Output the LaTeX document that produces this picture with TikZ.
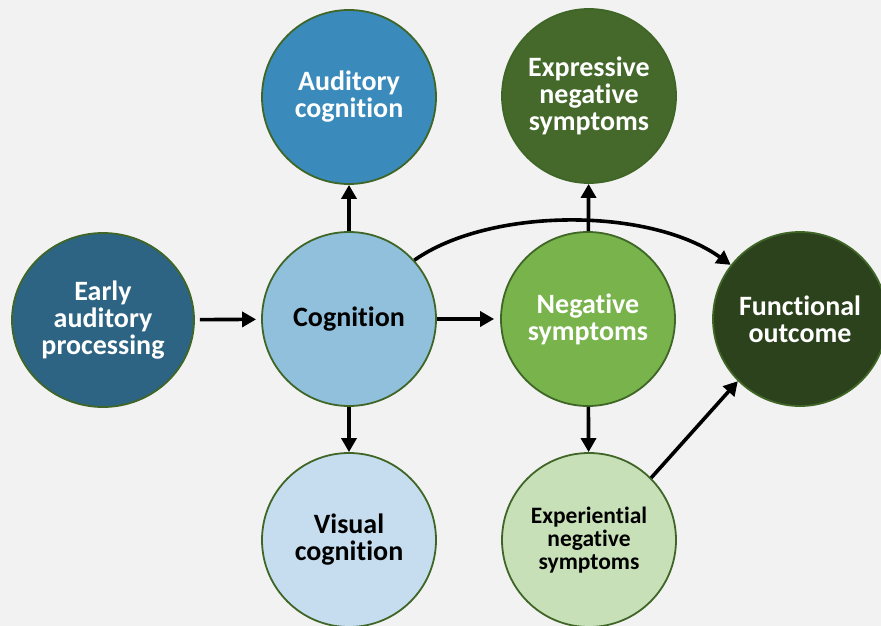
\documentclass[tikz,border=0pt]{standalone}
\usepackage{fontspec}
\setmainfont[Ligatures=NoCommon]{Carlito}
\usetikzlibrary{arrows.meta,shapes.geometric}
\definecolor{bgc}{HTML}{F2F2F2}
\definecolor{rim}{HTML}{3F6626}
\definecolor{cEarly}{HTML}{2D6483}
\definecolor{cAud}{HTML}{3A8BBB}
\definecolor{cCog}{HTML}{91C0DC}
\definecolor{cVis}{HTML}{C5DDEE}
\definecolor{cNeg}{HTML}{78B34B}
\definecolor{cExpr}{HTML}{44692B}
\definecolor{cExpe}{HTML}{C8E0B8}
\definecolor{cFun}{HTML}{2C421C}
\tikzset{
  bubble/.style={circle, draw=rim, line width=1.8pt, minimum size=174pt, inner sep=0pt,
    align=center, font=\fontsize{28}{27}\selectfont\bfseries},
  small/.style={font=\fontsize{23.5}{23}\selectfont\bfseries},
  link/.style={line width=3.6pt, -{Triangle[length=14pt,width=15pt]}},
}
\begin{document}
\begin{tikzpicture}[x=1pt,y=-1pt]
  \fill[bgc] (0,0) rectangle (881,626);
  \useasboundingbox (0,0) rectangle (881,626);

  \node[bubble, ellipse, fill=cEarly, text=white, minimum width=182pt, minimum height=174pt] (early) at (103,320) {Early\\auditory\\processing};
  \node[bubble, fill=cCog, text=black] (cog) at (349,319) {Cognition};
  \node[bubble, fill=cAud, text=white] (aud) at (349,97) {Auditory\\cognition};
  \node[bubble, fill=cVis, text=black] (vis) at (349,540) {Visual\\cognition};
  \node[bubble, fill=cNeg, text=white] (neg) at (588,319) {Negative\\symptoms};
  \node[bubble, fill=cExpr, text=white] (expr) at (589,96) {Expressive\\negative\\symptoms};
  \node[bubble, small, fill=cExpe, text=black] (expe) at (589,540) {Experiential\\negative\\symptoms};
  \node[bubble, fill=cFun, text=white] (fun) at (800,319) {Functional\\outcome};

  \draw[link, shorten <=5pt, shorten >=5pt] (early) -- (cog);
  \draw[link, shorten >=6pt] (cog) -- (neg);
  \draw[link] (cog) -- (aud);
  \draw[link] (cog) -- (vis);
  \draw[link] (neg) -- (expr);
  \draw[link] (neg) -- (expe);
  \draw[link] (cog.42) .. controls (490,207) and (650,207) .. (fun.142);
  \draw[link] (expe.45) -- (fun.225);
\end{tikzpicture}
\end{document}
